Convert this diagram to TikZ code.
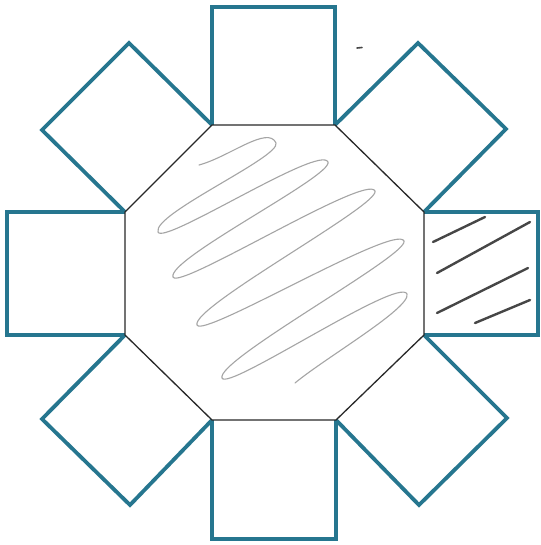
\documentclass[tikz,border=0pt]{standalone}
\begin{document}
\begin{tikzpicture}[x=1pt,y=-1pt,
  tile/.style={draw={rgb,255:red,38;green,118;blue,143}, line width=3.8pt, line join=miter},
  octline/.style={draw={rgb,255:red,40;green,40;blue,40}, line width=1.3pt},
  scribble/.style={draw={rgb,255:red,165;green,165;blue,165}, line width=1.1pt, line cap=round, line join=round},
  hatch/.style={draw={rgb,255:red,70;green,70;blue,70}, line width=2.4pt, line cap=round}]
\useasboundingbox (0,0) rectangle (540,545);
\fill[white] (0,0) rectangle (540,545);
% octagon vertices
\coordinate (o1) at (212,125);
\coordinate (o2) at (335,125);
\coordinate (o3) at (424,212);
\coordinate (o4) at (424,335);
\coordinate (o5) at (336,420);
\coordinate (o6) at (212,420);
\coordinate (o7) at (125,335);
\coordinate (o8) at (125,212);
% scribble tips
\coordinate (s0) at (199,165);
\coordinate (r1) at (276,143);
\coordinate (l1) at (158,232);
\coordinate (r2) at (328,162);
\coordinate (l2) at (173,277);
\coordinate (r3) at (375,191);
\coordinate (l3) at (197,325);
\coordinate (r4) at (404,241);
\coordinate (l4) at (222,378);
\coordinate (r5) at (407,294);
\coordinate (s9) at (295,383);
\draw[scribble] (s0) .. controls +(30,-8) and +(-8,-18) .. (r1)
  .. controls +(5,14) and +(-6,-18) .. (l1)
  .. controls +(5,14) and +(-8,-18) .. (r2)
  .. controls +(5,14) and +(-6,-18) .. (l2)
  .. controls +(5,14) and +(-8,-18) .. (r3)
  .. controls +(5,14) and +(-6,-18) .. (l3)
  .. controls +(5,14) and +(-8,-18) .. (r4)
  .. controls +(5,14) and +(-6,-18) .. (l4)
  .. controls +(5,14) and +(-8,-18) .. (r5)
  .. controls +(4,14) and +(30,-25) .. (s9);
% squares (outer three sides)
\draw[tile] (o1) -- (212,7) -- (335,7) -- (o2);
\draw[tile] (o3) -- (538,212) -- (538,335) -- (o4);
\draw[tile] (o5) -- (336,539) -- (212,539) -- (o6);
\draw[tile] (o7) -- (7,335) -- (7,212) -- (o8);
\draw[tile] (o8) -- (42,130) -- (129,43) -- (o1);
\draw[tile] (o2) -- (418,43) -- (506,129) -- (o3);
\draw[tile] (o4) -- (507,418) -- (419,505) -- (o5);
\draw[tile] (o6) -- (130,505) -- (42,419) -- (o7);
% octagon
\draw[octline] (o1) -- (o2) -- (o3) -- (o4) -- (o5) -- (o6) -- (o7) -- (o8) -- cycle;
% hatching in right square
\draw[hatch] (433,242) -- (485,217);
\draw[hatch] (437,273) -- (530,222);
\draw[hatch] (437,313) -- (528,268);
\draw[hatch] (475,323) -- (530,300);
% stray mark
\draw[hatch, line width=1.6pt] (357,48) -- (362,47.5);
\end{tikzpicture}
\end{document}
